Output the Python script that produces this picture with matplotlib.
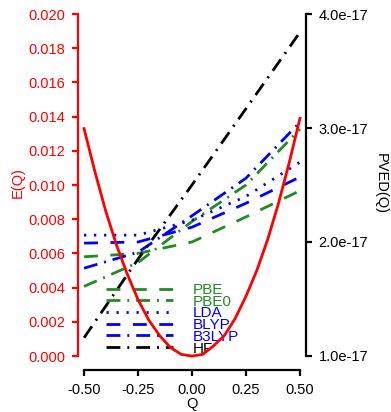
import matplotlib.pyplot as plt
from matplotlib.ticker import FixedLocator, FuncFormatter

plt.rcParams['font.family'] = ['Liberation Sans', 'DejaVu Sans']
plt.rcParams['font.size'] = 10.5

# energy along the mode coordinate
q = [-0.50, -0.45, -0.40, -0.35, -0.30, -0.25, -0.20, -0.15, -0.10, -0.05, 0.00,
     0.05, 0.10, 0.15, 0.20, 0.25, 0.30, 0.35, 0.40, 0.45, 0.50]
energy = [0.0133, 0.0108, 0.0085, 0.0065, 0.0048, 0.0033, 0.0021, 0.0012, 0.0005, 0.0001, 0.0000,
          0.0001, 0.0006, 0.0012, 0.0022, 0.0035, 0.0050, 0.0068, 0.0089, 0.0113, 0.0139]

# PVED per method, in units of 1e-17
q_pved = [-0.5, -0.25, 0.0, 0.25, 0.5]
pved_pbe = [1.87, 1.90, 2.00, 2.22, 2.45]
pved_pbe0 = [1.61, 1.82, 2.18, 2.50, 2.99]
pved_lda = [2.06, 2.06, 2.19, 2.40, 2.70]
pved_blyp = [1.99, 2.00, 2.13, 2.34, 2.57]
pved_b3lyp = [1.77, 1.91, 2.23, 2.56, 3.05]
pved_hf = [1.16, 1.85, 2.50, 3.17, 3.84]
pved_unit = 1e-17

green = '#228b22'
blue = '#0000ff'
dashed = (0, (5, 4.5))
dashdot = (0, (5, 2.5, 0.7, 2.5))
dotted = (0, (0.8, 2.8))

W, H = 391, 412
fig = plt.figure(figsize=(W / 100, H / 100), dpi=100)
ax1 = fig.add_axes([78 / W, (H - 366) / H, (306 - 78) / W, 366 / H])
ax2 = ax1.twinx()

methods = [
    ("PBE", pved_pbe, green, dashed),
    ("PBE0", pved_pbe0, green, dashdot),
    ("LDA", pved_lda, blue, dotted),
    ("BLYP", pved_blyp, blue, dashed),
    ("B3LYP", pved_b3lyp, blue, dashdot),
    ("HF", pved_hf, 'black', dashdot),
]
handles = []
for name, vals, col, ls in methods:
    h, = ax2.plot(q_pved, [v * pved_unit for v in vals], color=col, linestyle=ls,
                  lw=2, label=name)
    handles.append(h)

ax1.plot(q, energy, color='red', lw=2, zorder=6)

# energy axis on top so the red curve sits over everything
ax1.set_zorder(ax2.get_zorder() + 1)
ax1.patch.set_visible(False)

ax1.set_xlim(-0.528, 0.528)
ax1.set_ylim(-0.00058, 0.02082)
ax2.set_ylim(0.912e-17, 4.123e-17)

for ax in (ax1, ax2):
    ax.spines['top'].set_visible(False)
    for s in ax.spines.values():
        s.set_linewidth(1.6)
ax1.spines['right'].set_visible(False)
ax2.spines['left'].set_visible(False)
ax2.spines['bottom'].set_visible(False)

ax1.spines['bottom'].set_position(('outward', 3))
ax1.spines['bottom'].set_bounds(-0.5, 0.5)
ax1.spines['left'].set_bounds(0, 0.02)
ax1.spines['left'].set_color('red')
ax2.spines['right'].set_bounds(1e-17, 4e-17)

ax1.set_xticks([-0.5, -0.25, 0, 0.25, 0.5])
ax1.xaxis.set_major_formatter(FuncFormatter(lambda v, p: f"{v:.2f}"))
ax1.set_yticks([0.002 * i for i in range(11)])
ax1.yaxis.set_major_formatter(FuncFormatter(lambda v, p: f"{v:.3f}"))
ax2.yaxis.set_major_locator(FixedLocator([1e-17, 2e-17, 3e-17, 4e-17]))
ax2.yaxis.set_major_formatter(FuncFormatter(lambda v, p: f"{v:.1e}"))

ax1.tick_params(axis='x', length=4.5, width=1.6, pad=4.5)
ax1.tick_params(axis='y', length=4.5, width=1.6, colors='red', pad=4.5)
ax2.tick_params(axis='y', length=4.5, width=1.6, pad=4.5)

ax1.set_xlabel("Q", labelpad=0)
ax1.set_ylabel("E(Q)", color='red', labelpad=3)
ax2.set_ylabel("PVED(Q)", rotation=270, labelpad=14)

ax1.legend(handles=handles, loc='upper left', bbox_to_anchor=(106 / W, (H - 283) / H),
           bbox_transform=fig.transFigure, frameon=False, handlelength=4.4,
           handletextpad=1.3, labelspacing=-0.15, borderpad=0, borderaxespad=0,
           labelcolor='linecolor', fontsize=11)

fig.savefig("out.png", dpi=100)
